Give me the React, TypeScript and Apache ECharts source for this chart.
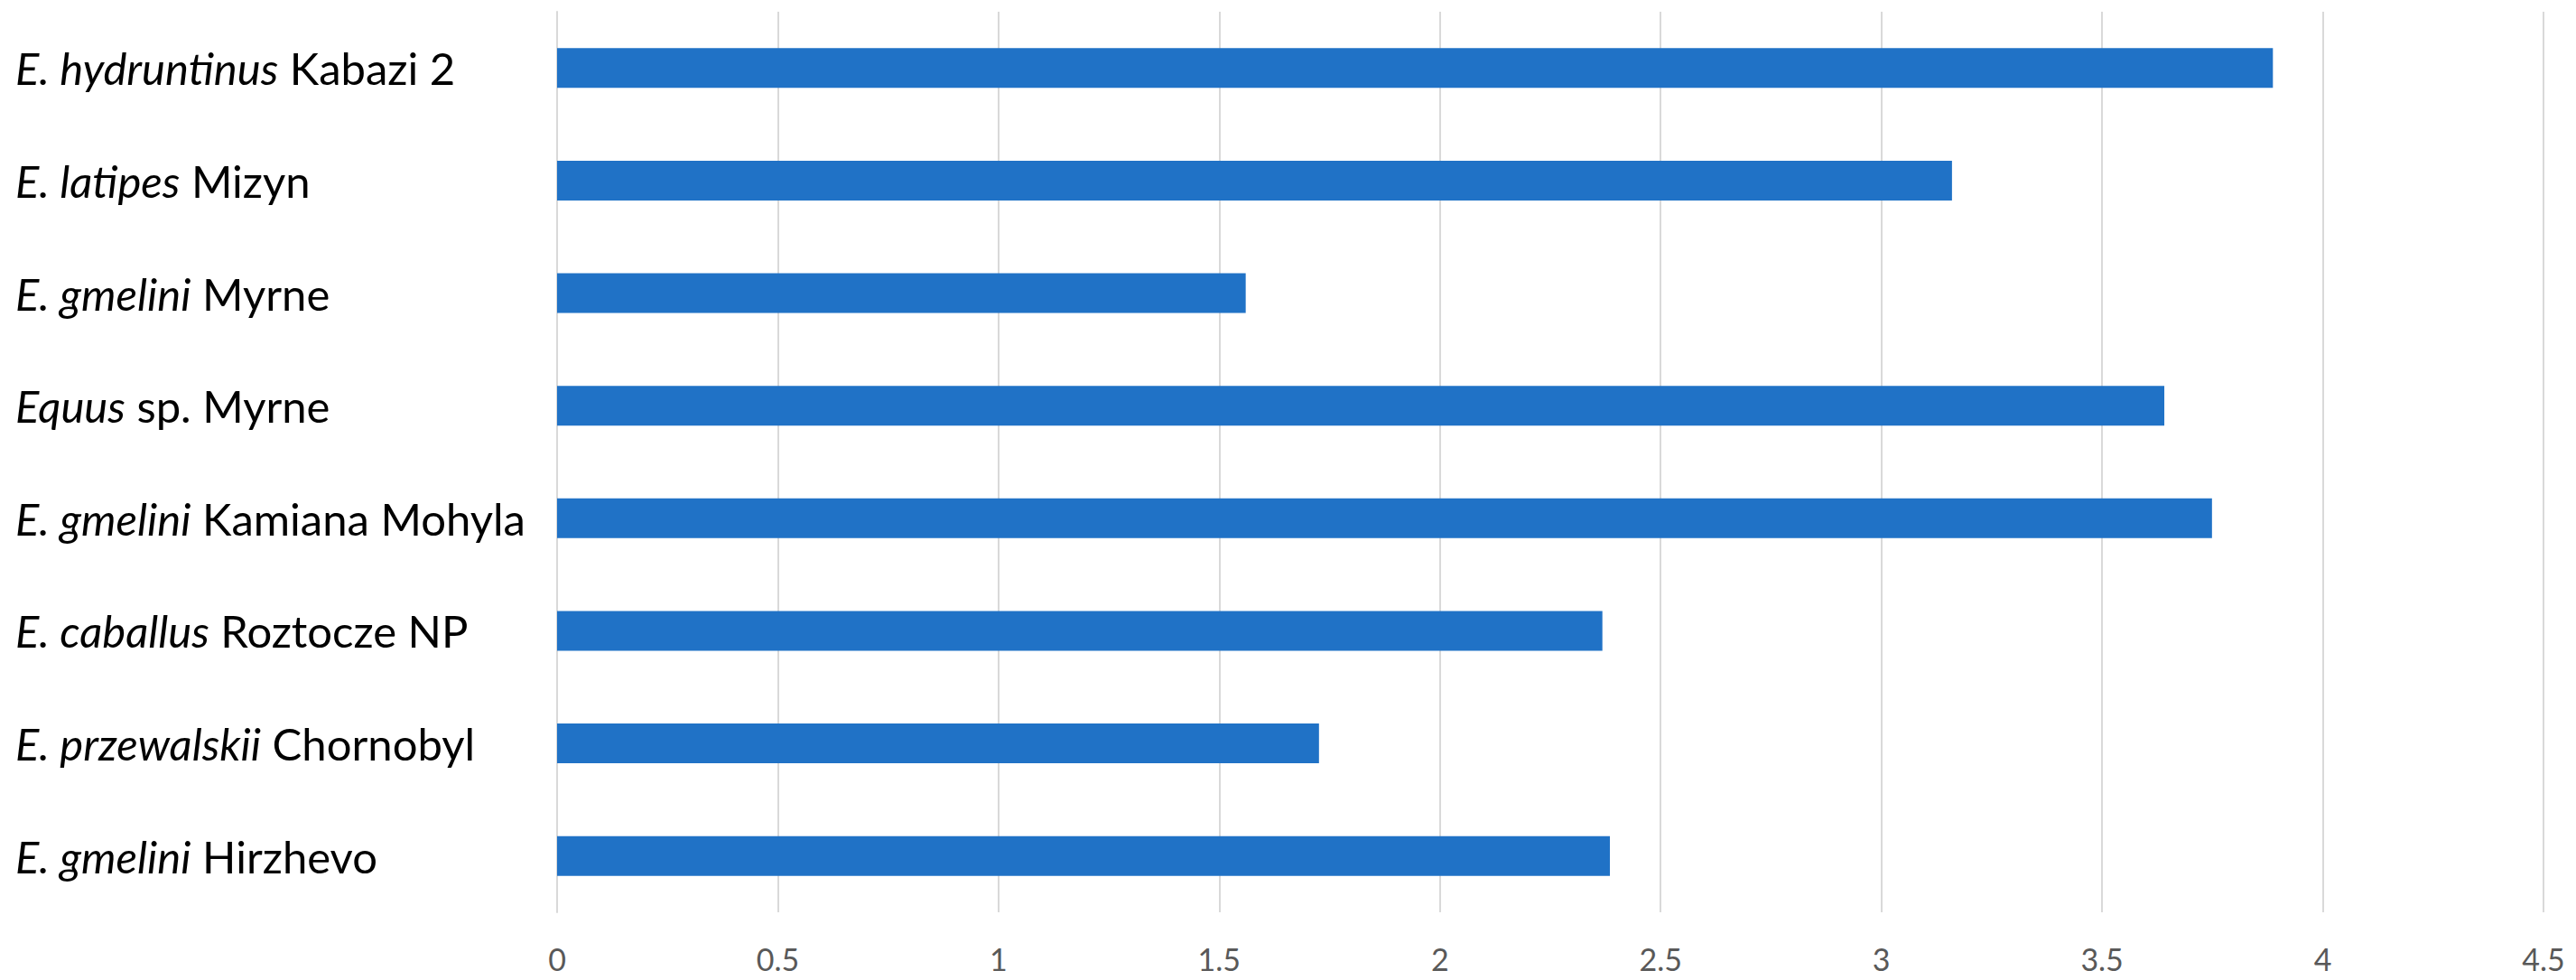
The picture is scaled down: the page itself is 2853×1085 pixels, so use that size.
import React, { useEffect, useRef } from "react";
import * as echarts from "echarts";

const italicParts = [
  "E. hydruntinus",
  "E. latipes",
  "E. gmelini",
  "Equus",
  "E. gmelini",
  "E. caballus",
  "E. przewalskii",
  "E. gmelini",
];
const plainParts = [
  "Kabazi 2",
  "Mizyn",
  "Myrne",
  "sp. Myrne",
  "Kamiana Mohyla",
  "Roztocze NP",
  "Chornobyl",
  "Hirzhevo",
];
const categories = italicParts.map((it, i) => it + " " + plainParts[i]);
const values = [3.887, 3.16, 1.56, 3.641, 3.749, 2.368, 1.726, 2.385];
const xTicks = [0, 0.5, 1, 1.5, 2, 2.5, 3, 3.5, 4, 4.5];

export default function App() {
  const ref = useRef<HTMLDivElement>(null);
  useEffect(() => {
    document.body.style.margin = "0";
    const chart = echarts.init(ref.current!, null, { renderer: "svg" });
    const labelMap: Record<string, string> = {};
    categories.forEach((c, i) => {
      labelMap[c] = "{i|" + italicParts[i] + "}{n|\u00a0" + plainParts[i] + "}";
    });
    chart.setOption({
      animation: false,
      backgroundColor: "#ffffff",
      grid: { left: 617, right: 36, top: 13, bottom: 75, containLabel: false },
      xAxis: {
        type: "value",
        min: xTicks[0],
        max: xTicks[xTicks.length - 1],
        interval: 0.5,
        axisLine: { show: false },
        axisTick: { show: false },
        splitLine: { show: true, lineStyle: { color: "#d9d9d9", width: 2 } },
        axisLabel: {
          color: "#595959",
          fontFamily: "Lato",
          fontSize: 34,
          margin: 34,
          formatter: (v: number) => String(v),
        },
      },
      yAxis: {
        type: "category",
        inverse: true,
        data: categories,
        axisLine: { show: true, lineStyle: { color: "#d9d9d9", width: 2 } },
        axisTick: { show: false },
        splitLine: { show: false },
        axisLabel: {
          align: "left",
          margin: 600,
          formatter: (v: string) => labelMap[v],
          rich: {
            i: { fontFamily: "Lato", fontStyle: "italic", fontSize: 49, color: "#000000" },
            n: { fontFamily: "Lato", fontSize: 49, color: "#000000" },
          },
        },
      },
      series: [
        {
          type: "bar",
          data: values,
          barWidth: 44,
          itemStyle: { color: "#2072c6" },
        },
      ],
    });
    return () => chart.dispose();
  }, []);
  return <div ref={ref} style={{ width: 2853, height: 1085 }} />;
}
